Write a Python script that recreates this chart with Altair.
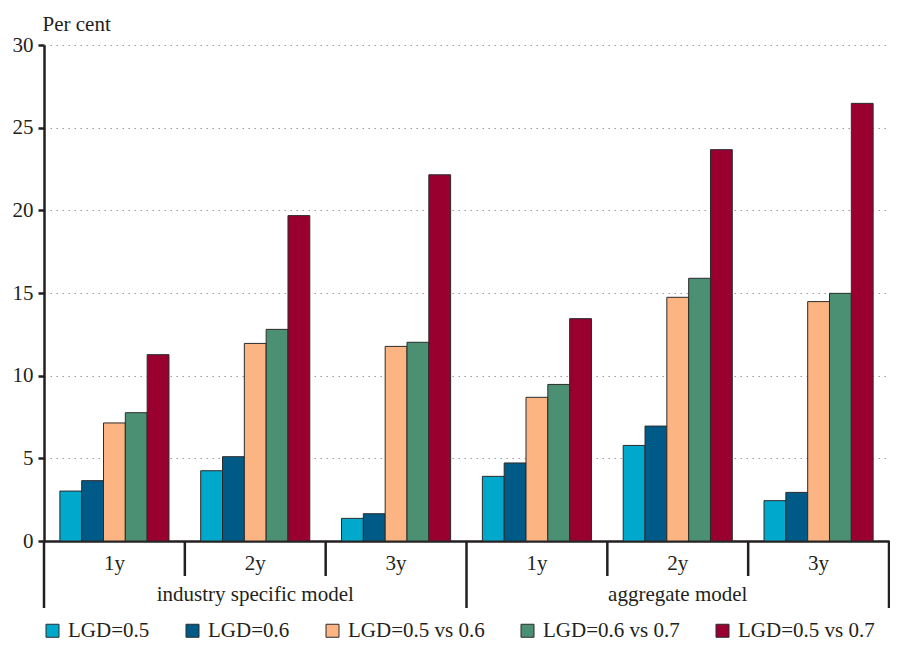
import altair as alt
import pandas as pd

# ---- data ----
models = ["industry specific model", "aggregate model"]
model_keys = ["i", "a"]
horizons = ["1y", "2y", "3y"]
series = ["LGD=0.5", "LGD=0.6", "LGD=0.5 vs 0.6", "LGD=0.6 vs 0.7", "LGD=0.5 vs 0.7"]
colors = ["#00A9CB", "#005A87", "#FBB482", "#4C9074", "#990030"]

industry_1y = [3.02, 3.65, 7.14, 7.76, 11.27]
industry_2y = [4.25, 5.10, 11.95, 12.80, 19.68]
industry_3y = [1.37, 1.65, 11.77, 12.02, 22.15]
aggregate_1y = [3.91, 4.72, 8.69, 9.47, 13.45]
aggregate_2y = [5.78, 6.95, 14.74, 15.89, 23.67]
aggregate_3y = [2.44, 2.94, 14.48, 14.98, 26.47]

y_ticks = [0, 5, 10, 15, 20, 25, 30]

values = {
    ("i", "1y"): industry_1y, ("i", "2y"): industry_2y, ("i", "3y"): industry_3y,
    ("a", "1y"): aggregate_1y, ("a", "2y"): aggregate_2y, ("a", "3y"): aggregate_3y,
}

keys = [mk + h for mk in model_keys for h in horizons]

rows = []
for mk in model_keys:
    for h in horizons:
        for s, v in zip(series, values[(mk, h)]):
            rows.append({"key": mk + h, "series": s, "value": v})
df = pd.DataFrame(rows)

# dividers between groups
short_div = pd.DataFrame({"key": ["i2y", "i3y", "a2y", "a3y"]})
long_div = pd.DataFrame({"key": ["i1y", "a1y"]})
end_div = pd.DataFrame({"key": ["a3y"]})
model_lab = pd.DataFrame({"key": ["i2y", "a2y"], "label": models})

FONT = "Liberation Serif"
DARK = "#231f20"
H = 496
W = 845

xscale = alt.Scale(domain=keys, paddingInner=0, paddingOuter=0)

bars = alt.Chart(df).mark_bar(stroke="#2b2b2b", strokeWidth=1).encode(
    x=alt.X("key:N", scale=xscale,
            axis=alt.Axis(title=None, labelExpr="substring(datum.value, 1)",
                          ticks=False, tickSize=0, labelPadding=22,
                          labelBaseline="middle", labelAngle=0,
                          labelFont=FONT, labelFontSize=21, labelColor=DARK,
                          domainColor=DARK, domainWidth=2.5, grid=False)),
    xOffset=alt.XOffset("series:N", sort=series,
                        scale=alt.Scale(domain=series, paddingInner=0, paddingOuter=0.727)),
    y=alt.Y("value:Q", scale=alt.Scale(domain=[0, 30], nice=False),
            axis=alt.Axis(values=y_ticks, title="Per cent", titleAngle=0,
                          titleAlign="left", titleBaseline="alphabetic",
                          titleX=-2, titleY=-15, titleFont=FONT, titleFontSize=21,
                          titleFontWeight="normal", titleColor=DARK,
                          labelFont=FONT, labelFontSize=21, labelColor=DARK,
                          labelPadding=5, tickSize=6, tickWidth=2.5, tickColor=DARK,
                          domainColor=DARK, domainWidth=2.5,
                          grid=True, gridDash=[1.5, 4.5], gridColor="#9a9a9a",
                          gridWidth=1.2)),
    color=alt.Color("series:N", sort=series,
                    scale=alt.Scale(domain=series, range=colors),
                    legend=alt.Legend(title=None, orient="none", legendX=-2, legendY=575,
                                      direction="horizontal", symbolType="square",
                                      symbolSize=169, symbolStrokeColor="#2b2b2b",
                                      symbolStrokeWidth=1, labelFont=FONT,
                                      labelFontSize=21, labelColor=DARK, labelOffset=5,
                                      columnPadding=32)),
)

short_rules = alt.Chart(short_div).mark_rule(color=DARK, strokeWidth=2.5).encode(
    x=alt.X("key:N", scale=xscale, bandPosition=0),
    y=alt.value(H), y2=alt.value(H + 35),
)
long_rules = alt.Chart(long_div).mark_rule(color=DARK, strokeWidth=2.5).encode(
    x=alt.X("key:N", scale=xscale, bandPosition=0),
    y=alt.value(H), y2=alt.value(H + 67),
)
end_rule = alt.Chart(end_div).mark_rule(color=DARK, strokeWidth=2.5).encode(
    x=alt.X("key:N", scale=xscale, bandPosition=1),
    y=alt.value(H), y2=alt.value(H + 67),
)
mlabels = alt.Chart(model_lab).mark_text(font=FONT, fontSize=21, color=DARK,
                                         baseline="middle", align="center").encode(
    x=alt.X("key:N", scale=xscale, bandPosition=0.5),
    y=alt.value(H + 54),
    text="label:N",
)

chart = alt.layer(bars, short_rules, long_rules, end_rule, mlabels).properties(
    width=W, height=H,
    autosize=alt.AutoSizeParams(type="none"),
    padding={"left": 36, "top": 37, "right": 1, "bottom": 103},
    background="white",
).configure_view(stroke=None)

chart.save("out.html", embed_options={"renderer": "svg", "actions": False})
